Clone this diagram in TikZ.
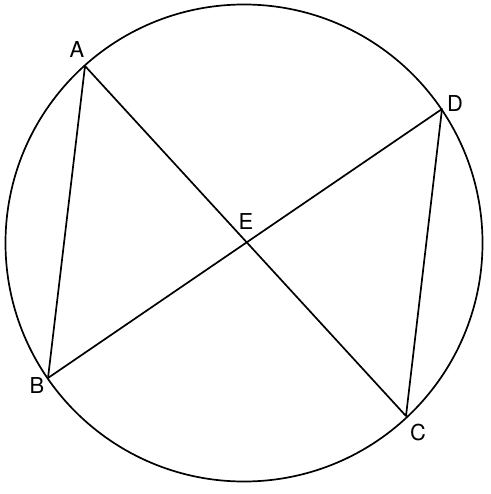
\documentclass[tikz,border=0pt]{standalone}
\usepackage{fontspec}
\setmainfont{TeX Gyre Heros}
\begin{document}
\begin{tikzpicture}[x=1bp,y=-1bp,line cap=round,line join=round]
	\tikzset{every node/.style={font=\fontsize{22}{26}\selectfont}}
	\useasboundingbox (0,0) rectangle (491,494);
	\draw[line width=1.7bp] (244,243) circle (238.5bp);
	\coordinate (A) at (85,66);
	\coordinate (B) at (48,378);
	\coordinate (C) at (406,416);
	\coordinate (D) at (442,109);
	\coordinate (E) at (intersection of A--C and B--D);
	\draw[line width=1.7bp] (B)--(A)--(C)--(D)--(B);
	\node (labA) at (77,50) {A};
	\node (labB) at (37,386) {B};
	\node (labC) at (418,433) {C};
	\node (labD) at (455,104) {D};
	\node (labE) at (246,222) {E};
\end{tikzpicture}
\end{document}
